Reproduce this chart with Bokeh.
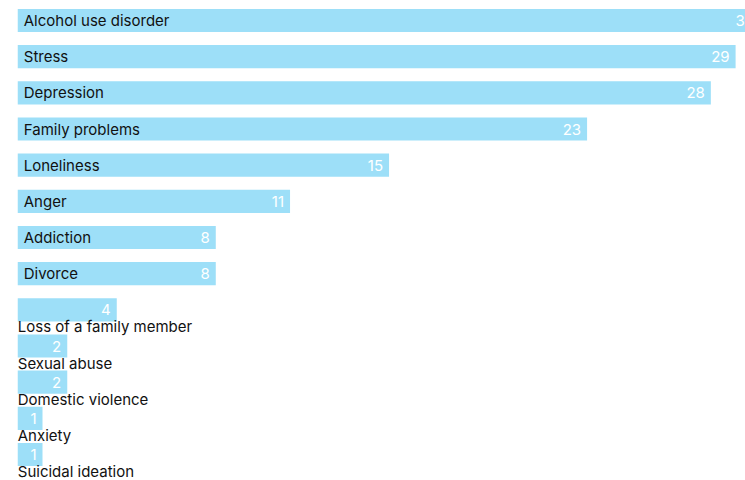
from bokeh.plotting import figure
from bokeh.models import ColumnDataSource, Range1d
from bokeh.core.properties import value
from bokeh.embed import file_html
from bokeh.resources import INLINE

categories = ["Alcohol use disorder", "Stress", "Depression", "Family problems",
              "Loneliness", "Anger", "Addiction", "Divorce",
              "Loss of a family member", "Sexual abuse", "Domestic violence",
              "Anxiety", "Suicidal ideation"]
values = [30, 29, 28, 23, 15, 11, 8, 8, 4, 2, 2, 1, 1]
# labels that fit inside the bar are drawn in the bar; others below it
label_inside = [v >= 8 for v in values]

idx = list(range(len(categories)))
src = ColumnDataSource(dict(y=idx, v=values, cat=categories,
                            vt=[str(v) for v in values], x0=[0] * len(values)))
inside = ColumnDataSource(dict(y=[i for i in idx if label_inside[i]],
                               cat=[categories[i] for i in idx if label_inside[i]],
                               x0=[0] * sum(label_inside)))
below = ColumnDataSource(dict(y=[i for i in idx if not label_inside[i]],
                              cat=[categories[i] for i in idx if not label_inside[i]],
                              x0=[0] * (len(idx) - sum(label_inside))))

p = figure(width=745, height=480, output_backend="svg", toolbar_location=None,
           x_range=Range1d(-0.697, 29.40), y_range=Range1d(12.718, -0.553),
           min_border=0)
p.axis.visible = False
p.grid.visible = False
p.outline_line_color = None
p.background_fill_color = "white"
p.border_fill_color = "white"

p.hbar(y="y", left=0, right="v", height=0.64, source=src,
       fill_color="#9DDFF8", line_color=None)

font = value("Inter")
p.text(x="x0", y="y", text="cat", source=inside, x_offset=6,
       text_baseline="middle", text_align="left", text_font=font,
       text_font_size="15px", text_color="#111111")
p.text(x="x0", y="y", text="cat", source=below, x_offset=0, y_offset=17,
       text_baseline="middle", text_align="left", text_font=font,
       text_font_size="15px", text_color="#111111")
p.text(x="v", y="y", text="vt", source=src, x_offset=-6,
       text_baseline="middle", text_align="right", text_font=font,
       text_font_size="15px", text_color="white")

open("out.html", "w").write(file_html(p, INLINE))
